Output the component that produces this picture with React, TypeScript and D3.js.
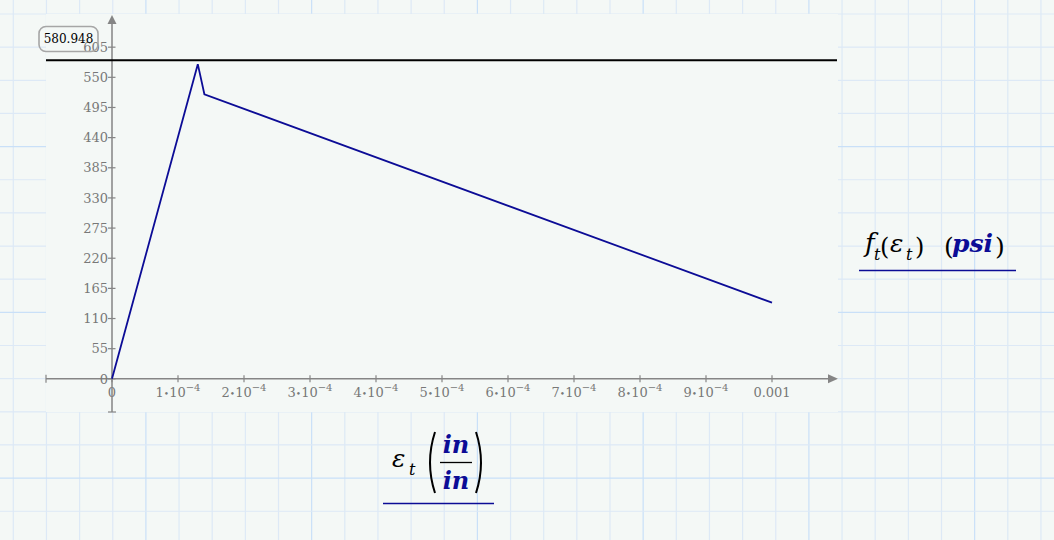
import React from 'react';
import * as d3 from 'd3';

// tensile stress-strain curve
const strain = [0, 1.3e-4, 1.4e-4, 1e-3];
const stress = [0, 574, 519, 139];
const crackLine = 580.948;

const yTicks = [0, 55, 110, 165, 220, 275, 330, 385, 440, 495, 550, 605];
const xTicks = [0, 1e-4, 2e-4, 3e-4, 4e-4, 5e-4, 6e-4, 7e-4, 8e-4, 9e-4, 1e-3];
const xTickMant = ['0', '1', '2', '3', '4', '5', '6', '7', '8', '9', '0.001'];

const W = 1054;
const H = 540;
const plot = { left: 46, top: 14, right: 838, bottom: 412 };

const BG = '#f4f8f6';
const AXIS = '#858585';
const BLUE = '#0c0c96';
const SERIF = "'DejaVu Serif', serif";

const App: React.FC = () => {
  const x = d3.scaleLinear().domain([-1e-4, 1.1e-3]).range([plot.left, plot.right]);
  const y = d3.scaleLinear().domain([-60.5, 665.5]).range([plot.bottom, plot.top]);

  const pts: [number, number][] = strain.map((s, i) => [s, stress[i]]);
  const line = d3.line<[number, number]>()
    .x(d => x(d[0]))
    .y(d => y(d[1]));

  const x0 = x(0);
  const y0 = y(0);

  // worksheet grid behind everything
  const step = 33.15;
  const gridX = d3.range(13.3, W, step);
  const gridY = d3.range(14, H, step);

  return (
    <svg width={W} height={H} style={{ position: 'absolute', left: 0, top: 0 }}>
      <rect width={W} height={H} fill={BG} />
      {gridX.map((gx, i) => (
        <line key={'gx' + i} x1={gx} x2={gx} y1={0} y2={H}
          stroke={i % 5 === 4 ? '#c9e0f8' : '#dde9f6'} strokeWidth={1.2} />
      ))}
      {gridY.map((gy, i) => (
        <line key={'gy' + i} x1={0} x2={W} y1={gy} y2={gy}
          stroke={i % 5 === 4 ? '#c9e0f8' : '#dde9f6'} strokeWidth={1.2} />
      ))}

      {/* plot region */}
      <rect x={plot.left} y={plot.top} width={plot.right - plot.left} height={plot.bottom - plot.top} fill={BG} />

      {/* x axis */}
      <line x1={plot.left} x2={plot.right - 8} y1={y0} y2={y0} stroke={AXIS} strokeWidth={1.5} />
      <path d={`M${plot.right},${y0} L${plot.right - 10},${y0 - 4.5} L${plot.right - 10},${y0 + 4.5} Z`} fill={AXIS} />
      <line x1={plot.left} x2={plot.left} y1={y0 - 4} y2={y0 + 4} stroke={AXIS} strokeWidth={1.2} />
      {xTicks.map((t, i) => (
        <g key={'xt' + i}>
          <line x1={x(t)} x2={x(t)} y1={y0 - 3.5} y2={y0 + 3.5} stroke={AXIS} strokeWidth={1.2} />
          <text x={x(t)} y={y0 + 18} textAnchor="middle" fontFamily={SERIF} fontSize={13} fill="#787878">
            {i === 0 || i === xTicks.length - 1 ? xTickMant[i] : (
              <>
                {xTickMant[i]}
                <tspan fontSize={9}>{'\u2022'}</tspan>
                10
                <tspan fontSize={10} dy={-6}>{'\u22124'}</tspan>
              </>
            )}
          </text>
        </g>
      ))}

      {/* y axis */}
      <line x1={x0} x2={x0} y1={plot.bottom} y2={plot.top + 8} stroke={AXIS} strokeWidth={1.5} />
      <path d={`M${x0},${plot.top + 1} L${x0 - 4.5},${plot.top + 10} L${x0 + 4.5},${plot.top + 10} Z`} fill={AXIS} />
      <line x1={x0 - 4} x2={x0 + 4} y1={plot.bottom} y2={plot.bottom} stroke={AXIS} strokeWidth={1.2} />
      {yTicks.map((t, i) => (
        <g key={'yt' + i}>
          <line x1={x0 - 4} x2={x0 + 3.5} y1={y(t)} y2={y(t)} stroke={AXIS} strokeWidth={1.2} />
          <text x={x0 - 4} y={y(t)} dy="0.36em" textAnchor="end" fontFamily={SERIF} fontSize={13} fill="#787878">
            {t}
          </text>
        </g>
      ))}

      {/* cracking stress marker */}
      <line x1={plot.left} x2={plot.right - 1} y1={y(crackLine)} y2={y(crackLine)} stroke="#000" strokeWidth={2} />
      <rect x={39} y={26.5} width={59} height={25} rx={7} fill="none" stroke="#a6a6a6" strokeWidth={1.6} />
      <text x={68.5} y={39} dy="0.36em" textAnchor="middle" fontFamily={SERIF} fontSize={12} fill="#000">
        {crackLine.toFixed(3)}
      </text>

      {/* curve */}
      <path d={line(pts) ?? ''} fill="none" stroke={BLUE} strokeWidth={1.8} strokeLinejoin="miter" />

      {/* y label */}
      <g fontFamily={SERIF}>
        <text x={865} y={252} fontSize={26} fontStyle="italic">f</text>
        <text x={874} y={260} fontSize={16} fontStyle="italic">t</text>
        <text x={880} y={255} fontSize={24} fontWeight={300}>(</text>
        <text x={890} y={252} fontSize={25} fontStyle="italic">ε</text>
        <text x={906} y={260} fontSize={16} fontStyle="italic">t</text>
        <text x={915} y={255} fontSize={24} fontWeight={300}>)</text>
        <text x={944} y={255} fontSize={25}>(</text>
        <text x={952} y={252} fontSize={25} fontStyle="italic" fontWeight="bold" fill={BLUE}>psi</text>
        <text x={995} y={255} fontSize={25}>)</text>
        <line x1={859} x2={1016} y1={270.5} y2={270.5} stroke={BLUE} strokeWidth={1.5} />
      </g>

      {/* x label */}
      <g fontFamily={SERIF}>
        <text x={392} y={467} fontSize={25} fontStyle="italic">ε</text>
        <text x={409} y={475} fontSize={16} fontStyle="italic">t</text>
        <path d="M435,432 Q425,462.5 435,493" fill="none" stroke="#000" strokeWidth={2} />
        <text x={456} y={453} textAnchor="middle" fontSize={24} fontStyle="italic" fontWeight="bold" fill={BLUE}>in</text>
        <line x1={440} x2={472} y1={462.5} y2={462.5} stroke="#000" strokeWidth={1.3} />
        <text x={456} y={489} textAnchor="middle" fontSize={24} fontStyle="italic" fontWeight="bold" fill={BLUE}>in</text>
        <path d="M476,432 Q486,462.5 476,493" fill="none" stroke="#000" strokeWidth={2} />
        <line x1={383} x2={494} y1={503.5} y2={503.5} stroke={BLUE} strokeWidth={1.5} />
      </g>
    </svg>
  );
};

export default App;
